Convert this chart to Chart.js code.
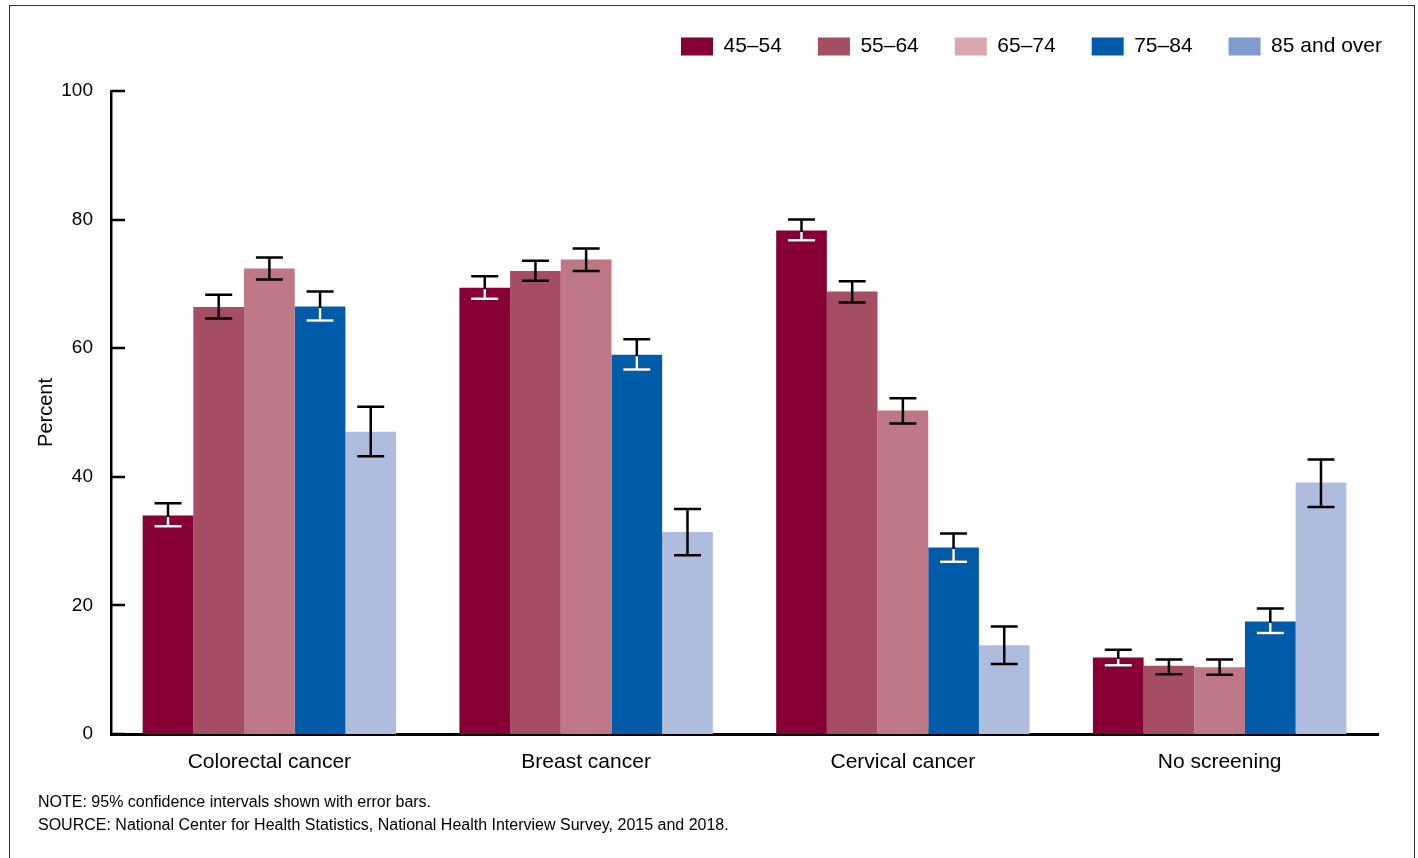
<!DOCTYPE html>
<html>
<head>
<meta charset="utf-8">
<title>Cancer screening by age group</title>
<script src="https://cdn.jsdelivr.net/npm/chart.js@4.4.1/dist/chart.umd.min.js"></script>
<style>
  html, body { margin: 0; padding: 0; background: #fff; }
  canvas { display: block; }
</style>
</head>
<body>
<canvas id="screeningChart" width="1418" height="858"></canvas>
<script>
// Percent of adults receiving each screening, by age group, with 95% CIs
var categories = ['Colorectal cancer', 'Breast cancer', 'Cervical cancer', 'No screening'];
var ageGroups = ['45–54', '55–64', '65–74', '75–84', '85 and over'];

var pct4554 = [34.0, 69.4, 78.3, 11.9];
var pct5564 = [66.4, 72.0, 68.8, 10.6];
var pct6574 = [72.4, 73.8, 50.3, 10.4];
var pct7584 = [66.5, 59.0, 29.0, 17.5];
var pct85up = [47.0, 31.4, 13.8, 39.1];

var low4554 = [32.3, 67.7, 76.8, 10.7];
var low5564 = [64.6, 70.5, 67.1, 9.3];
var low6574 = [70.7, 72.0, 48.3, 9.2];
var low7584 = [64.3, 56.7, 26.8, 15.7];
var low85up = [43.2, 27.8, 10.9, 35.3];

var high4554 = [35.9, 71.2, 80.0, 13.1];
var high5564 = [68.3, 73.6, 70.4, 11.6];
var high6574 = [74.1, 75.5, 52.2, 11.6];
var high7584 = [68.8, 61.4, 31.2, 19.5];
var high85up = [50.9, 35.0, 16.7, 42.7];

var yTicks = [0, 20, 40, 60, 80, 100];

var noteLines = [
    'NOTE: 95% confidence intervals shown with error bars.',
    'SOURCE: National Center for Health Statistics, National Health Interview Survey, 2015 and 2018.'
];

var values = [pct4554, pct5564, pct6574, pct7584, pct85up];
var lows = [low4554, low5564, low6574, low7584, low85up];
var highs = [high4554, high5564, high6574, high7584, high85up];

var barColors = ['#860036', '#a54e63', '#be7785', '#005ca8', '#aebcde'];
var legendColors = ['#860036', '#a54e63', '#d9a8af', '#005ca8', '#809ccc'];
// whisker colour where it runs inside the bar
var innerWhisker = ['#ffffff', '#000000', '#000000', '#ffffff', '#000000'];

var FONT = "'Liberation Sans', Arial, Helvetica, sans-serif";

// Error bars with caps; the part inside a dark bar is drawn white
var errorBarPlugin = {
    id: 'errorBars',
    afterDatasetsDraw: function(chart) {
        var ctx = chart.ctx;
        var yScale = chart.scales.y;
        var capHalf = 13.5;
        chart.data.datasets.forEach(function(ds, di) {
            var meta = chart.getDatasetMeta(di);
            meta.data.forEach(function(bar, i) {
                var x = bar.x;
                var yLo = yScale.getPixelForValue(ds.errLow[i]);
                var yHi = yScale.getPixelForValue(ds.errHigh[i]);
                var strokeBar = function(color) {
                    ctx.strokeStyle = color;
                    ctx.lineWidth = 2.5;
                    ctx.beginPath();
                    ctx.moveTo(x, yHi);
                    ctx.lineTo(x, yLo);
                    ctx.moveTo(x - capHalf, yHi);
                    ctx.lineTo(x + capHalf, yHi);
                    ctx.moveTo(x - capHalf, yLo);
                    ctx.lineTo(x + capHalf, yLo);
                    ctx.stroke();
                };
                ctx.save();
                strokeBar('#000000');
                if (innerWhisker[di] !== '#000000') {
                    ctx.beginPath();
                    ctx.rect(bar.x - bar.width / 2, bar.y + 1.5, bar.width, bar.base - bar.y);
                    ctx.clip();
                    strokeBar(innerWhisker[di]);
                }
                ctx.restore();
            });
        });
    }
};

// Inward tick marks on the value axis, notes and outer frame
var decorPlugin = {
    id: 'decor',
    afterDraw: function(chart) {
        var ctx = chart.ctx;
        var yScale = chart.scales.y;
        var left = chart.chartArea.left;
        ctx.save();
        ctx.strokeStyle = '#000';
        ctx.lineWidth = 2.5;
        yScale.ticks.forEach(function(t) {
            var py = Math.round(yScale.getPixelForValue(t.value));
            ctx.beginPath();
            ctx.moveTo(left, py);
            ctx.lineTo(left + 14, py);
            ctx.stroke();
        });

        ctx.fillStyle = '#000';
        ctx.font = '16px ' + FONT;
        ctx.textBaseline = 'middle';
        ctx.textAlign = 'left';
        noteLines.forEach(function(line, i) {
            ctx.fillText(line, 38, 803 + i * 23);
        });

        ctx.strokeStyle = '#333';
        ctx.lineWidth = 1;
        ctx.strokeRect(9.5, 5.5, 1405, 900);
        ctx.restore();
    }
};

var datasets = ageGroups.map(function(label, i) {
    return {
        label: label,
        data: values[i],
        errLow: lows[i],
        errHigh: highs[i],
        backgroundColor: barColors[i],
        borderWidth: 0,
        categoryPercentage: 0.8,
        barPercentage: 1.0
    };
});

new Chart(document.getElementById('screeningChart').getContext('2d'), {
    type: 'bar',
    data: {
        labels: categories,
        datasets: datasets
    },
    options: {
        responsive: false,
        animation: false,
        layout: {
            padding: { left: 24, right: 0, top: 0, bottom: 0 }
        },
        plugins: {
            legend: {
                position: 'top',
                align: 'end',
                labels: {
                    boxWidth: 32,
                    boxHeight: 18,
                    padding: 36,
                    color: '#000',
                    font: { family: FONT, size: 21 },
                    generateLabels: function() {
                        return ageGroups.map(function(text, i) {
                            return {
                                text: text,
                                fillStyle: legendColors[i],
                                strokeStyle: legendColors[i],
                                lineWidth: 0,
                                hidden: false,
                                datasetIndex: i
                            };
                        });
                    }
                }
            },
            tooltip: { enabled: false }
        },
        scales: {
            x: {
                type: 'category',
                grid: { display: false, drawTicks: false },
                border: { display: true, color: '#000', width: 3 },
                ticks: {
                    color: '#000',
                    padding: 16,
                    font: { family: FONT, size: 21 }
                },
                afterFit: function(scale) { scale.height = 124; }
            },
            xTop: {
                type: 'category',
                position: 'top',
                grid: { display: false, drawTicks: false },
                border: { display: false },
                ticks: { display: false },
                afterFit: function(scale) { scale.height = 24; }
            },
            y: {
                min: 0,
                max: 100,
                afterBuildTicks: function(scale) {
                    scale.ticks = yTicks.map(function(v) { return { value: v }; });
                },
                grid: { display: false, drawTicks: false },
                border: { display: true, color: '#000', width: 2.5 },
                ticks: {
                    color: '#000',
                    padding: 18,
                    font: { family: FONT, size: 19 }
                },
                title: {
                    display: true,
                    text: 'Percent',
                    color: '#000',
                    padding: { top: 10, bottom: 0 },
                    font: { family: FONT, size: 20 }
                },
                afterFit: function(scale) { scale.width = 87; }
            },
            yRight: {
                type: 'linear',
                position: 'right',
                grid: { display: false, drawTicks: false },
                border: { display: false },
                ticks: { display: false },
                afterFit: function(scale) { scale.width = 40; }
            }
        }
    },
    plugins: [errorBarPlugin, decorPlugin]
});
</script>
</body>
</html>
